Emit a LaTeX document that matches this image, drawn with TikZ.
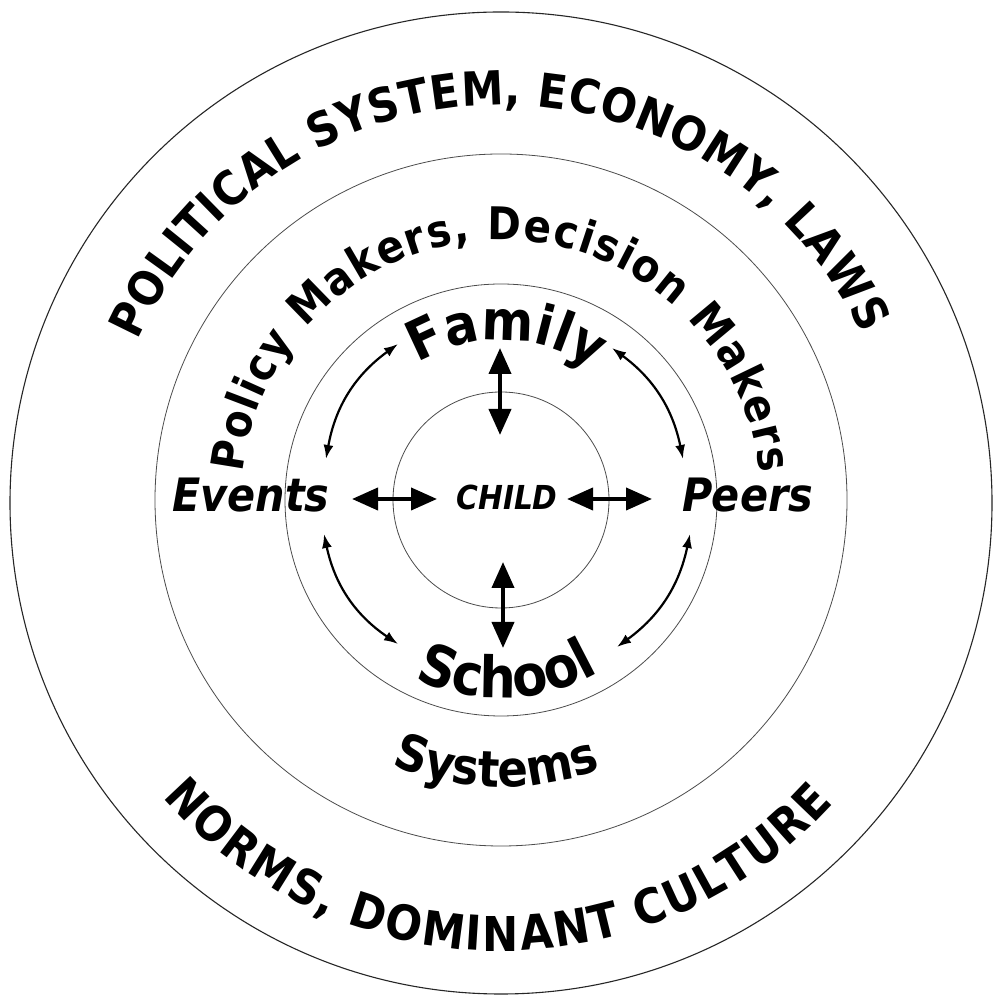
\documentclass[tikz,border=0pt]{standalone}
\usepackage{fontspec}
\newfontfamily\dvc{DejaVu Sans Condensed}
\usetikzlibrary{decorations.text,arrows.meta}
\newcommand\fCaps{\dvc\bfseries\fontsize{47}{50}\selectfont}
\newcommand\fNorms{\dvc\bfseries\fontsize{48}{50}\selectfont}
\newcommand\fPolicy{\dvc\bfseries\fontsize{45}{48}\selectfont}
\newcommand\fFam{\dvc\bfseries\fontsize{55}{58}\selectfont}
\newcommand\fSch{\dvc\bfseries\fontsize{57}{60}\selectfont}
\newcommand\fSys{\dvc\bfseries\fontsize{50}{52}\selectfont}
\begin{document}
\begin{tikzpicture}[x=1pt,y=1pt,
  ring/.style={draw=black!70,line width=0.8pt},
  outerring/.style={draw=black!85,line width=1.1pt},
  lbl/.style={inner sep=0pt,font=\dvc\bfseries\itshape\fontsize{46}{48}\selectfont},
  childlbl/.style={inner sep=0pt,font=\dvc\bfseries\itshape\fontsize{33}{36}\selectfont},
  bigarr/.style={line width=4pt,{Triangle[length=26pt,width=22pt]}-{Triangle[length=26pt,width=22pt]}},
  curvarr/.style={line width=2.2pt,{Latex[length=14pt,width=10pt]}-{Latex[length=14pt,width=10pt]}}]
\useasboundingbox (0,0) rectangle (993,1000);
\fill[white] (0,0) rectangle (993,1000);

% circles
\coordinate (C) at (501,500);
\coordinate (CO) at (501,497);
\draw[outerring] (CO) circle[radius=491pt];
\draw[ring] (C) circle[radius=346pt];
\draw[ring] (C) circle[radius=216pt];
\draw[ring] (C) circle[radius=108pt];

% outer ring texts
\begin{scope}[shift={(CO)}]
\path[decorate,decoration={text along path,
   text={|\fCaps|POLITICAL SYSTEM, ECONOMY, LAWS},text align={fit to path}}]
   (156:398pt) arc[start angle=156,end angle=25,radius=398pt];
\path[decorate,decoration={text along path,
   text={|\fNorms|NORMS, DOMINANT CULTURE},text align={fit to path}}]
   (221:448pt) arc[start angle=221,end angle=318,radius=448pt];
\end{scope}

\begin{scope}[shift={(C)}]
\path[decorate,decoration={text along path,
   text={|\fPolicy|Policy Makers, Decision Makers},text align={fit to path}}]
   (174:260pt) arc[start angle=174,end angle=6,radius=260pt];
\path[decorate,decoration={text along path,
   text={|\fFam|Family},text align=center}]
   (148:160pt) arc[start angle=148,end angle=28,radius=160pt];
\path[decorate,decoration={text along path,
   text={|\fSch|School},text align=center}]
   (212:198pt) arc[start angle=212,end angle=332,radius=198pt];
\path[decorate,decoration={text along path,
   text={|\fSys|Systems},text align=center}]
   (229:287pt) arc[start angle=229,end angle=309,radius=287pt];
\end{scope}

% straight labels
\node[lbl] (events) at (251,504.5) {Events};
\node[lbl] (peers) at (748,504.5) {Peers};
\node[childlbl] (child) at (507,502.5) {CHILD};

% straight arrows
\coordinate (famA) at (500,652);
\coordinate (chT) at (500,565);
\coordinate (chB) at (503,438);
\coordinate (schA) at (503,352);
\coordinate (evA) at (352,501);
\coordinate (chL) at (437,501);
\coordinate (chR) at (567,501);
\coordinate (peA) at (652,501);
\draw[bigarr] (famA) -- (chT);
\draw[bigarr] (chB) -- (schA);
\draw[bigarr] (evA) -- (chL);
\draw[bigarr] (chR) -- (peA);

% curved arrows
\coordinate (tl1) at (398,656);
\coordinate (tl2) at (326,541);
\coordinate (tr1) at (612,652);
\coordinate (tr2) at (683,541);
\coordinate (bl1) at (324,466);
\coordinate (bl2) at (398,356);
\coordinate (br1) at (690,466);
\coordinate (br2) at (617,353);
\draw[curvarr] (tl1) to[bend right=22] (tl2);
\draw[curvarr] (tr1) to[bend left=21] (tr2);
\draw[curvarr] (bl1) to[bend right=22] (bl2);
\draw[curvarr] (br1) to[bend left=21] (br2);
\end{tikzpicture}
\end{document}
